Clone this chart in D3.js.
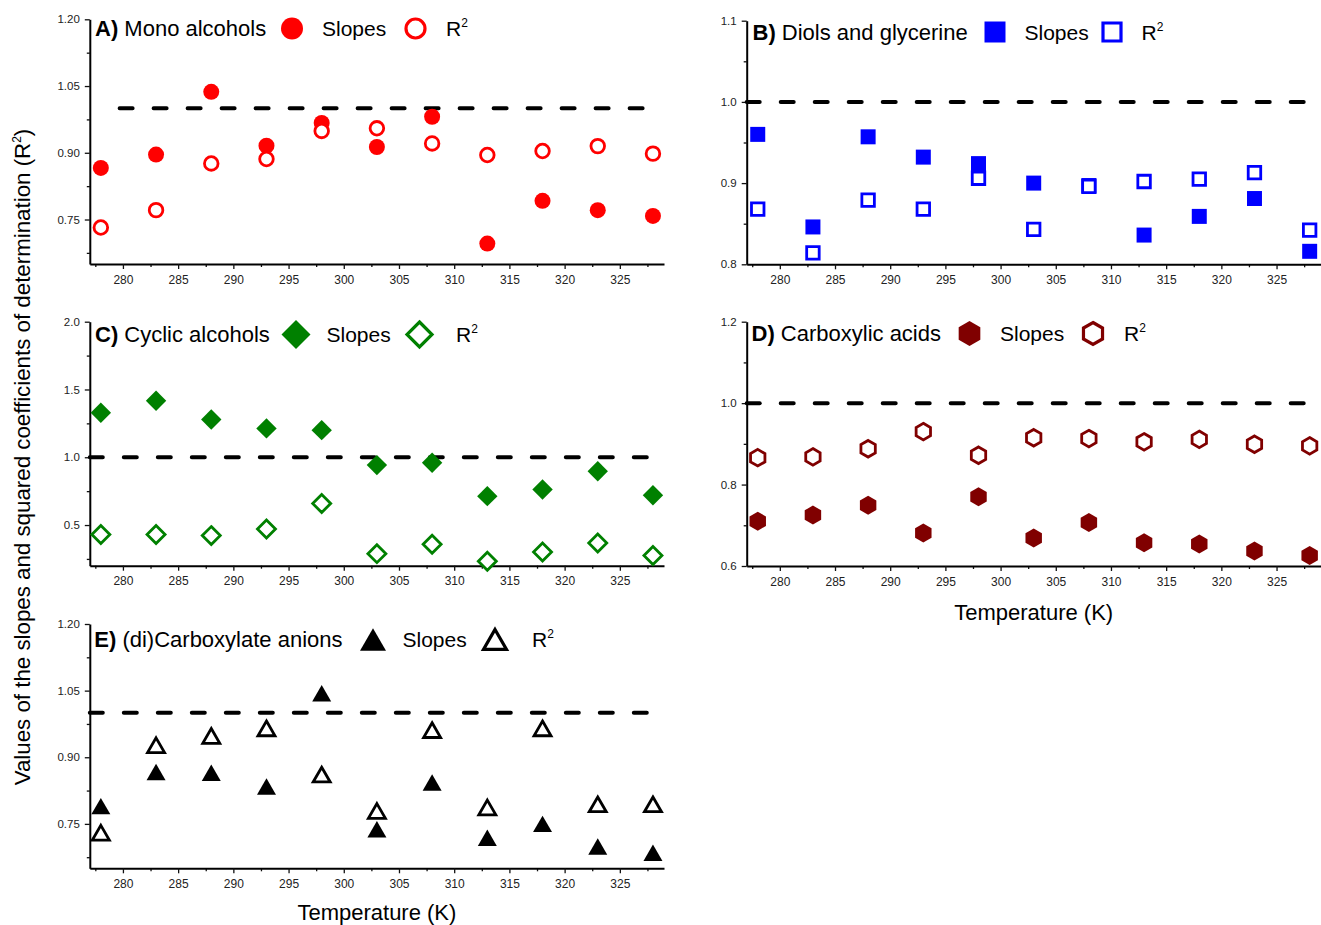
<!DOCTYPE html>
<html>
<head>
<meta charset="utf-8">
<script src="https://cdn.jsdelivr.net/npm/d3@7"></script>
<style>
  body { margin: 0; background: #fff; }
  svg { display: block; font-family: "Liberation Sans", Arial, sans-serif; }
  .tick text { fill: #222; }
</style>
</head>
<body>
<svg id="chart" width="1321" height="925"></svg>
<script>
// temperatures (K) shared by every panel
const temps = [278, 283, 288, 293, 298, 303, 308, 313, 318, 323, 328];

// A) mono alcohols
const monoSlopes = [0.866, 0.896, 1.037, 0.916, 0.967, 0.913, 0.981, 0.696, 0.792, 0.771, 0.758];
const monoR2     = [0.732, 0.771, 0.876, 0.886, 0.949, 0.955, 0.921, 0.895, 0.904, 0.915, 0.898];
// B) diols and glycerine
const diolSlopes = [0.960, 0.846, 0.957, 0.932, 0.924, 0.900, 0.897, 0.836, 0.859, 0.881, 0.816];
const diolR2     = [0.868, 0.814, 0.879, 0.868, 0.906, 0.843, 0.896, 0.902, 0.905, 0.913, 0.842];
// C) cyclic alcohols
const cyclicSlopes = [1.328, 1.417, 1.279, 1.213, 1.200, 0.942, 0.959, 0.713, 0.762, 0.897, 0.720];
const cyclicR2     = [0.430, 0.430, 0.422, 0.471, 0.659, 0.289, 0.358, 0.233, 0.301, 0.368, 0.275];
// D) carboxylic acids
const acidSlopes = [0.710, 0.725, 0.749, 0.681, 0.770, 0.669, 0.707, 0.657, 0.654, 0.637, 0.626];
const acidR2     = [0.866, 0.868, 0.888, 0.930, 0.872, 0.915, 0.913, 0.905, 0.911, 0.899, 0.895];
// E) (di)carboxylate anions
const anionSlopes = [0.790, 0.867, 0.865, 0.834, 1.044, 0.738, 0.843, 0.719, 0.750, 0.699, 0.685];
const anionR2     = [0.730, 0.927, 0.948, 0.965, 0.861, 0.779, 0.961, 0.787, 0.965, 0.794, 0.794];

// ticks
const xMajor = [280, 285, 290, 295, 300, 305, 310, 315, 320, 325];
const xMinor = [277.5, 282.5, 287.5, 292.5, 297.5, 302.5, 307.5, 312.5, 317.5, 322.5, 327.5];
const yMajorAE = [0.75, 0.90, 1.05, 1.20];
const yMinorAE = [0.675, 0.825, 0.975, 1.125];
const yMajorB = [0.8, 0.9, 1.0, 1.1];
const yMinorB = [0.85, 0.95, 1.05];
const yMajorC = [0.5, 1.0, 1.5, 2.0];
const yMinorC = [0.25, 0.75, 1.25, 1.75];
const yMajorD = [0.6, 0.8, 1.0, 1.2];
const yMinorD = [0.7, 0.9, 1.1];
const refValue = 1.0;

// marker sizes: points (filled/open), legend (filled/open)
const shapeSizes = {
  circle:   { f: 8,    o: 6.8,  lf: 11,   lo: 9.5 },
  square:   { f: 15,   o: 12.5, lf: 21,   lo: 18 },
  diamond:  { f: 10.2, o: 9,    lf: 14.5, lo: 12.5 },
  hexagon:  { f: 9.5,  o: 8.3,  lf: 12.5, lo: 11 },
  triangle: { f: 19,   o: 17,   lf: 26,   lo: 23 }
};

function shapePath(kind, s) {
  const p = d3.path();
  if (kind === 'circle') {
    p.moveTo(s, 0); p.arc(0, 0, s, 0, 2 * Math.PI);
  } else if (kind === 'square') {
    p.rect(-s / 2, -s / 2, s, s);
  } else if (kind === 'diamond') {
    p.moveTo(0, -s); p.lineTo(s, 0); p.lineTo(0, s); p.lineTo(-s, 0);
  } else if (kind === 'hexagon') {
    for (let k = 0; k < 6; k++) {
      const a = -Math.PI / 2 + k * Math.PI / 3;
      if (k === 0) p.moveTo(s * Math.cos(a), s * Math.sin(a));
      else p.lineTo(s * Math.cos(a), s * Math.sin(a));
    }
  } else if (kind === 'triangle') {
    const h = s * Math.sqrt(3) / 2;
    p.moveTo(0, -h / 2); p.lineTo(s / 2, h / 2); p.lineTo(-s / 2, h / 2);
  }
  p.closePath();
  return p.toString();
}

const panels = [
  { tag: 'A)', name: ' Mono alcohols', slopes: monoSlopes, r2: monoR2, color: '#ff0000', shape: 'circle',
    left: 89.8, right: 664, top: 19.3, bottom: 264, yDomain: [0.65, 1.20], yMajor: yMajorAE, yMinor: yMinorAE, fmt: '.2f',
    dashFrom: 279.7, dashTo: 327.6, titleX: 95, titleY: 28.5, leg: [292, 322, 415.5, 446] },
  { tag: 'B)', name: ' Diols and glycerine', slopes: diolSlopes, r2: diolR2, color: '#0000ff', shape: 'square',
    left: 746.7, right: 1320.7, top: 20.7, bottom: 264.3, yDomain: [0.8, 1.1], yMajor: yMajorB, yMinor: yMinorB, fmt: '.1f',
    dashFrom: 277, dashTo: 329, titleX: 752.5, titleY: 32, leg: [995, 1024.5, 1112, 1141.5] },
  { tag: 'C)', name: ' Cyclic alcohols', slopes: cyclicSlopes, r2: cyclicR2, color: '#008000', shape: 'diamond',
    left: 89.8, right: 664, top: 321.7, bottom: 565.7, yDomain: [0.2, 2.0], yMajor: yMajorC, yMinor: yMinorC, fmt: '.1f',
    dashFrom: 277, dashTo: 328, titleX: 95, titleY: 334.5, leg: [296, 326.5, 419.5, 456] },
  { tag: 'D)', name: ' Carboxylic acids', slopes: acidSlopes, r2: acidR2, color: '#800000', shape: 'hexagon',
    left: 746.7, right: 1320.7, top: 321.7, bottom: 566, yDomain: [0.6, 1.2], yMajor: yMajorD, yMinor: yMinorD, fmt: '.1f',
    dashFrom: 277, dashTo: 329, titleX: 751.5, titleY: 333.5, leg: [969.5, 1000, 1093, 1124],
    xTitleY: 612 },
  { tag: 'E)', name: ' (di)Carboxylate anions', slopes: anionSlopes, r2: anionR2, color: '#000000', shape: 'triangle',
    left: 89.8, right: 664, top: 624, bottom: 868.3, yDomain: [0.65, 1.20], yMajor: yMajorAE, yMinor: yMinorAE, fmt: '.2f',
    dashFrom: 277, dashTo: 327.9, titleX: 94.3, titleY: 639.5, leg: [373, 402.5, 495, 532],
    xTitleY: 912 }
];

const svg = d3.select('#chart');

panels.forEach(function(p) {
  const x = d3.scaleLinear().domain([277, 329]).range([p.left, p.right]);
  const y = d3.scaleLinear().domain(p.yDomain).range([p.bottom, p.top]);
  const sz = shapeSizes[p.shape];
  const g = svg.append('g');

  // minor ticks
  g.append('g').attr('transform', `translate(0,${p.bottom})`)
    .call(d3.axisBottom(x).tickValues(xMinor).tickSize(3).tickSizeOuter(0).tickFormat(''))
    .call(a => a.select('.domain').remove())
    .call(a => a.selectAll('line').attr('stroke', '#111').attr('stroke-width', 1.3));
  g.append('g').attr('transform', `translate(${p.left},0)`)
    .call(d3.axisLeft(y).tickValues(p.yMinor).tickSize(3).tickSizeOuter(0).tickFormat(''))
    .call(a => a.select('.domain').remove())
    .call(a => a.selectAll('line').attr('stroke', '#111').attr('stroke-width', 1.3));

  // major axes
  g.append('g').attr('transform', `translate(0,${p.bottom})`)
    .call(d3.axisBottom(x).tickValues(xMajor).tickSize(5).tickSizeOuter(0).tickPadding(6))
    .call(a => a.select('.domain').attr('stroke', '#000').attr('stroke-width', 2))
    .call(a => a.selectAll('line').attr('stroke', '#111').attr('stroke-width', 1.3))
    .call(a => a.selectAll('text').attr('font-size', 12).attr('font-family', '"Liberation Sans", Arial, sans-serif'));
  g.append('g').attr('transform', `translate(${p.left},0)`)
    .call(d3.axisLeft(y).tickValues(p.yMajor).tickSize(5).tickSizeOuter(0).tickPadding(5).tickFormat(d3.format(p.fmt)))
    .call(a => a.select('.domain').attr('stroke', '#000').attr('stroke-width', 2))
    .call(a => a.selectAll('line').attr('stroke', '#111').attr('stroke-width', 1.3))
    .call(a => a.selectAll('text').attr('font-size', 11.5).attr('font-family', '"Liberation Sans", Arial, sans-serif'));

  // reference line at 1
  g.append('path')
    .datum([p.dashFrom, p.dashTo])
    .attr('d', d3.line().x(d => x(d)).y(() => y(refValue)))
    .attr('fill', 'none').attr('stroke', '#000').attr('stroke-width', 4)
    .attr('stroke-linecap', 'round').attr('stroke-dasharray', '13,21');

  // slopes (filled), then R2 (open) on top
  g.append('g').selectAll('path')
    .data(temps.map((t, i) => ({ t: t, v: p.slopes[i] })))
    .join('path')
    .attr('transform', d => `translate(${x(d.t)},${y(d.v)})`)
    .attr('d', shapePath(p.shape, sz.f))
    .attr('fill', p.color);
  g.append('g').selectAll('path')
    .data(temps.map((t, i) => ({ t: t, v: p.r2[i] })))
    .join('path')
    .attr('transform', d => `translate(${x(d.t)},${y(d.v)})`)
    .attr('d', shapePath(p.shape, sz.o))
    .attr('fill', '#fff').attr('stroke', p.color).attr('stroke-width', 2.8);

  // title and legend
  const title = g.append('text').attr('x', p.titleX).attr('y', p.titleY)
    .attr('dy', '0.36em').attr('font-size', 22).attr('fill', '#000');
  title.append('tspan').attr('font-weight', 'bold').text(p.tag);
  title.append('tspan').text(p.name);

  g.append('path').attr('transform', `translate(${p.leg[0]},${p.titleY})`)
    .attr('d', shapePath(p.shape, sz.lf)).attr('fill', p.color);
  g.append('text').attr('x', p.leg[1]).attr('y', p.titleY).attr('dy', '0.36em')
    .attr('font-size', 21).text('Slopes');
  g.append('path').attr('transform', `translate(${p.leg[2]},${p.titleY})`)
    .attr('d', shapePath(p.shape, sz.lo)).attr('fill', '#fff')
    .attr('stroke', p.color).attr('stroke-width', 3.2);
  const r2 = g.append('text').attr('x', p.leg[3]).attr('y', p.titleY).attr('dy', '0.36em')
    .attr('font-size', 21);
  r2.append('tspan').text('R');
  r2.append('tspan').attr('font-size', 12).attr('dy', -9).text('2');

  if (p.xTitleY) {
    g.append('text').attr('x', (p.left + p.right) / 2).attr('y', p.xTitleY).attr('dy', '0.36em')
      .attr('text-anchor', 'middle').attr('font-size', 22).text('Temperature (K)');
  }
});

// shared y-axis title
const yTitle = svg.append('text')
  .attr('transform', 'translate(22,457) rotate(-90)')
  .attr('text-anchor', 'middle').attr('dy', '0.36em').attr('font-size', 22.3);
yTitle.append('tspan').text('Values of the slopes and squared coefficients of determination (R');
yTitle.append('tspan').attr('font-size', 12).attr('dy', -9).text('2');
yTitle.append('tspan').attr('dy', 9).text(')');
</script>
</body>
</html>
